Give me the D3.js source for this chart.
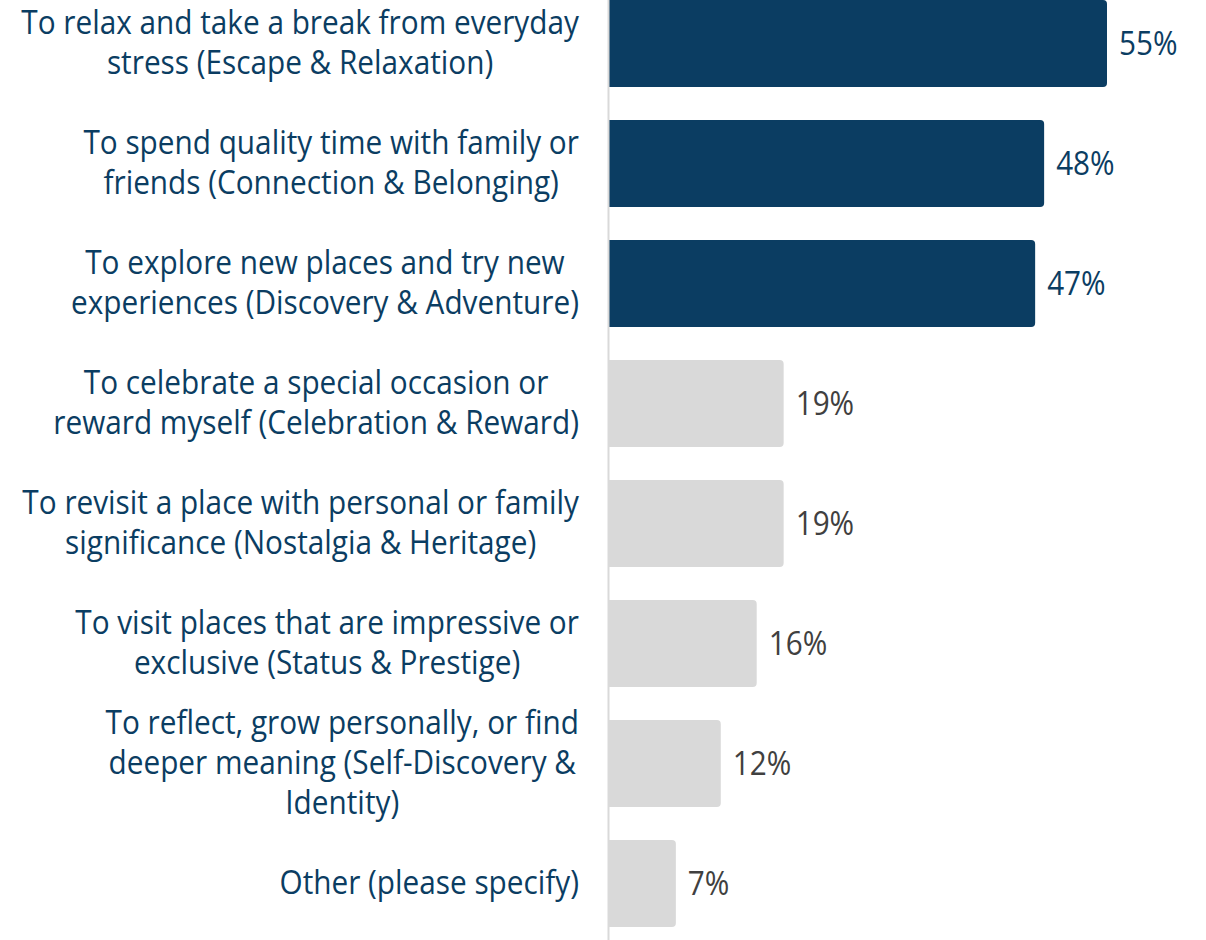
<!DOCTYPE html>
<html>
<head>
<meta charset="utf-8">
<script src="https://cdn.jsdelivr.net/npm/d3@7"></script>
<style>
  html, body { margin: 0; padding: 0; background: #ffffff; }
  svg { display: block; }
  text { font-family: "Open Sans", "Noto Sans", sans-serif; }
</style>
</head>
<body>
<svg id="chart" width="1206" height="940"></svg>
<script>
// Motivations for travel, share of respondents (%)
const categories = [
  ["To relax and take a break from everyday", "stress (Escape & Relaxation)"],
  ["To spend quality time with family or", "friends (Connection & Belonging)"],
  ["To explore new places and try new", "experiences (Discovery & Adventure)"],
  ["To celebrate a special occasion or", "reward myself (Celebration & Reward)"],
  ["To revisit a place with personal or family", "significance (Nostalgia & Heritage)"],
  ["To visit places that are impressive or", "exclusive (Status & Prestige)"],
  ["To reflect, grow personally, or find", "deeper meaning (Self-Discovery &", "Identity)"],
  ["Other (please specify)"]
];
const values = [55, 48, 47, 19, 19, 16, 12, 7];
const highlighted = [true, true, true, false, false, false, false, false];

const DARK = "#0b3d62";
const GREY = "#d9d9d9";

const svg = d3.select("#chart");
const idx = d3.range(values.length);

const y = d3.scaleBand()
  .domain(idx)
  .range([-16.5, 943.5])
  .paddingInner(0.275)
  .paddingOuter(0.1375);

const x = d3.scaleLinear().domain([0, 55]).range([613, 1107]);
const axisX = 609;       // baseline the bars grow from
const labelRight = 579;  // right edge of the category label blocks

// horizontal squeeze so the face sets narrow, like a condensed sans
const squeeze = 0.93;

// bars: square on the axis side, rounded on the value side
const r = 4;
function barPath(i) {
  const x0 = axisX, x1 = x(values[i]), y0 = y(i), h = y.bandwidth();
  return `M${x0},${y0}H${x1 - r}Q${x1},${y0} ${x1},${y0 + r}V${y0 + h - r}Q${x1},${y0 + h} ${x1 - r},${y0 + h}H${x0}Z`;
}

svg.append("g").selectAll("path")
  .data(idx)
  .join("path")
  .attr("d", barPath)
  .attr("fill", i => highlighted[i] ? DARK : GREY);

// vertical baseline
svg.append("line")
  .attr("x1", axisX - 0.5).attr("x2", axisX - 0.5)
  .attr("y1", 0).attr("y2", 940)
  .attr("stroke", "#d9d9d9")
  .attr("stroke-width", 2);

// category labels: lines centred within a block whose right edge meets labelRight
const labelG = svg.append("g");
idx.forEach(i => {
  const lines = categories[i];
  const cy = y(i) + y.bandwidth() / 2;
  const g = labelG.append("g");
  const texts = lines.map((ln, k) => g.append("text")
    .attr("y", cy + (k - (lines.length - 1) / 2) * 40 + 11)
    .attr("text-anchor", "middle")
    .attr("font-size", 32)
    .attr("fill", DARK)
    .text(ln));
  const maxW = d3.max(texts, t => t.node().getComputedTextLength()) * squeeze;
  g.attr("transform", `translate(${labelRight - maxW / 2},0) scale(${squeeze},1)`);
});

// value labels
const valG = svg.append("g");
idx.forEach(i => {
  const cy = y(i) + y.bandwidth() / 2;
  valG.append("g")
    .attr("transform", `translate(${x(values[i]) + 12},0) scale(0.9,1)`)
    .append("text")
    .attr("x", 0)
    .attr("y", cy + 12)
    .attr("font-size", 33)
    .attr("fill", highlighted[i] ? DARK : "#404040")
    .text(values[i] + "%");
});
</script>
</body>
</html>
